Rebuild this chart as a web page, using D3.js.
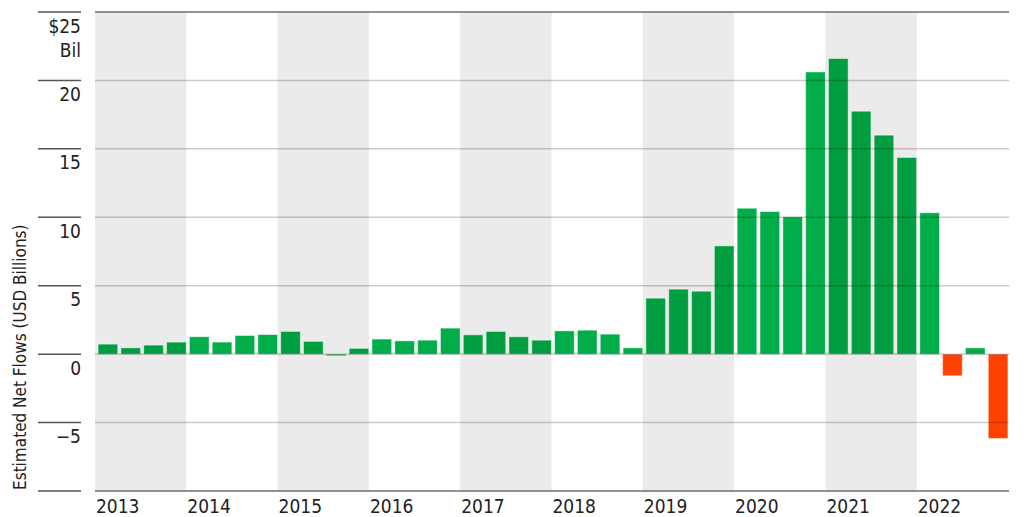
<!DOCTYPE html>
<html>
  <head>
    <meta charset="utf-8">
    <title>Estimated net flows</title>
    <script src="https://d3js.org/d3.v7.min.js"></script>
    <style>
      body { margin: 0; background: #fff; }
      svg { display: block; font-family: "Liberation Sans Narrow", "DejaVu Sans Condensed", sans-serif; }
      .tickText { font-size: 19px; fill: #222; }
      .titleText { font-size: 17px; fill: #222; }
    </style>
  </head>
  <body>
    <svg id="chart" width="1024" height="517"></svg>
    <script>
      // data, quarterly estimated net flows (USD billions)
      years = ["2013", "2014", "2015", "2016", "2017", "2018", "2019", "2020", "2021", "2022"];
      quarters = ["Q1", "Q2", "Q3", "Q4"];
      flows = [
        0.73, 0.46, 0.66, 0.88,
        1.27, 0.88, 1.36, 1.43,
        1.66, 0.93, -0.12, 0.42,
        1.10, 0.97, 1.02, 1.90,
        1.41, 1.66, 1.27, 1.02,
        1.70, 1.75, 1.46, 0.46,
        4.09, 4.75, 4.60, 7.91,
        10.66, 10.42, 10.03, 20.62,
        21.60, 17.75, 16.00, 14.37,
        10.33, -1.58, 0.46, -6.16
      ];
      yTicks = [-10, -5, 0, 5, 10, 15, 20, 25];
      yTickLabels = ["", "\u22125", "0", "5", "10", "15", "20", "$25"];

      // page elements
      chart = d3.select("#chart");
      margin = { top: 12, right: 15, bottom: 26, left: 95 };
      width = 1024;
      height = 517;

      quarterData = flows.map(function(v, i) {
        return { key: years[Math.floor(i / 4)] + quarters[i % 4], year: years[Math.floor(i / 4)], yearIndex: Math.floor(i / 4), value: v };
      });

      // scales
      xYear = d3.scaleBand()
        .domain(years)
        .range([margin.left, width - margin.right - 1]);
      x = d3.scaleBand()
        .domain(quarterData.map(function(d) { return d.key; }))
        .range([margin.left + 1.5, width - margin.right + 0.5])
        .paddingInner(0.14)
        .paddingOuter(0.07);
      y = d3.scaleLinear()
        .domain([-10, 25])
        .range([height - margin.bottom, margin.top]);

      // alternating year bands
      chart.append("g")
        .selectAll("rect")
        .data(years.filter(function(d, i) { return i % 2 == 0; }))
        .join("rect")
          .attr("x", function(d) { return xYear(d); })
          .attr("y", y(25))
          .attr("width", xYear.bandwidth())
          .attr("height", y(-10) - y(25))
          .attr("fill", "#ebebeb");

      // bars (only the clear outflows are red)
      chart.append("g")
        .selectAll("rect")
        .data(quarterData)
        .join("rect")
          .attr("x", function(d) { return x(d.key); })
          .attr("y", function(d) { return y(Math.max(0, d.value)); })
          .attr("width", x.bandwidth())
          .attr("height", function(d) { return Math.abs(y(d.value) - y(0)); })
          .attr("fill", function(d) {
            if (d.value < -0.5) return "#ff4200";
            return d.yearIndex % 2 == 0 ? "#009d41" : "#00ad48";
          })
          .attr("stroke", "rgba(255,255,255,0.45)")
          .attr("stroke-width", 1);

      // gridlines (drawn over the bars, semi-transparent)
      chart.append("g")
        .selectAll("line")
        .data(yTicks.filter(function(d) { return d > -10 && d < 25; }))
        .join("line")
          .attr("x1", margin.left)
          .attr("x2", width - margin.right)
          .attr("y1", function(d) { return y(d); })
          .attr("y2", function(d) { return y(d); })
          .attr("stroke", "rgba(0,0,0,0.2)")
          .attr("stroke-width", 1.5);

      // top and bottom frame lines
      chart.append("g")
        .selectAll("line")
        .data([25, -10])
        .join("line")
          .attr("x1", margin.left)
          .attr("x2", width - margin.right)
          .attr("y1", function(d) { return y(d); })
          .attr("y2", function(d) { return y(d); })
          .attr("stroke", "#6e6e6e")
          .attr("stroke-width", 1.5);

      // y axis: short tick rules with labels underneath
      yAxis = chart.append("g");
      yAxis.selectAll("line")
        .data(yTicks)
        .join("line")
          .attr("x1", 38)
          .attr("x2", 81)
          .attr("y1", function(d) { return y(d); })
          .attr("y2", function(d) { return y(d); })
          .attr("stroke", "#555")
          .attr("stroke-width", 1.5);
      yAxis.selectAll("text")
        .data(yTicks)
        .join("text")
          .attr("class", "tickText")
          .attr("x", 81)
          .attr("y", function(d) { return y(d) + 20.5; })
          .attr("text-anchor", "end")
          .text(function(d, i) { return yTickLabels[i]; });
      yAxis.append("text")
        .attr("class", "tickText")
        .attr("x", 81)
        .attr("y", y(25) + 44.5)
        .attr("text-anchor", "end")
        .text("Bil");

      // y title
      chart.append("text")
        .attr("class", "titleText")
        .attr("transform", "translate(26, 490) rotate(-90)")
        .attr("text-anchor", "start")
        .text("Estimated Net Flows (USD Billions)");

      // x axis year labels
      chart.append("g")
        .selectAll("text")
        .data(years)
        .join("text")
          .attr("class", "tickText")
          .attr("x", function(d) { return xYear(d) + 1; })
          .attr("y", 513)
          .text(function(d) { return d; });
    </script>
  </body>
</html>
